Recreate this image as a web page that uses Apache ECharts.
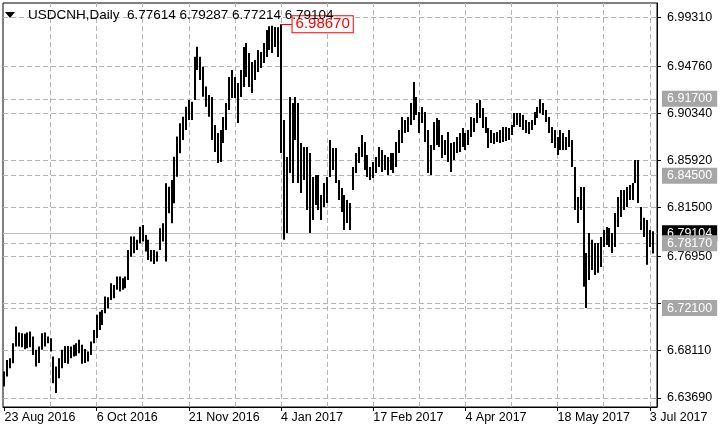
<!DOCTYPE html>
<html>
<head>
<meta charset="utf-8">
<script src="https://cdn.jsdelivr.net/npm/echarts@6/dist/echarts.min.js"></script>
<style>
html,body{margin:0;padding:0;background:#fff;}
#chart{width:720px;height:432px;}
</style>
</head>
<body>
<div id="chart"></div>
<script>
// ---- data ----
const symbolName = 'USDCNH,Daily';
const lastQuote = [6.77614, 6.79287, 6.77214, 6.79104]; // open high low close of last bar
const tickLabels = ['23 Aug 2016','6 Oct 2016','21 Nov 2016','4 Jan 2017','17 Feb 2017','4 Apr 2017','18 May 2017','3 Jul 2017'];
const gridValues = [6.9931, 6.9476, 6.9034, 6.8592, 6.8150, 6.7695, 6.7253, 6.6811, 6.6369];
const axisLabelValues = [6.9931, 6.9476, 6.9034, 6.8592, 6.8150, 6.7695, 6.6811, 6.6369];
const levelValues = [6.9170, 6.8450, 6.7817, 6.7210];
const bidValue = 6.79104;
const peakIndex = 96;
const peakValue = 6.9867;

const highs = [
6.6616,6.6725,6.6741,6.6882,6.7037,6.6981,6.6975,6.6969,6.6981,6.6990,
6.6944,6.6819,6.6850,6.6975,6.6981,6.6944,6.6928,6.6756,6.6663,6.6741,
6.6819,6.6856,6.6856,6.6850,6.6866,6.6882,6.6913,6.6866,6.6826,6.6803,
6.6897,6.7006,6.7147,6.7177,6.7193,6.7318,6.7312,6.7443,6.7427,6.7505,
6.7505,6.7490,6.7505,6.7755,6.7880,6.7880,6.7849,6.7973,6.7989,6.7895,
6.7849,6.7755,6.7755,6.7739,6.7958,6.8005,6.8379,6.8347,6.8410,6.8628,
6.8816,6.8941,6.9003,6.9096,6.9159,6.9143,6.9564,6.9658,6.9564,6.9471,
6.9284,6.9206,6.9187,6.8925,6.8850,6.8878,6.9000,6.9131,6.9374,6.9440,
6.9374,6.9318,6.9440,6.9655,6.9693,6.9599,6.9515,6.9533,6.9627,6.9608,
6.9693,6.9814,6.9850,6.9855,6.9842,6.9840,6.9867,6.8972,6.8626,6.9187,
6.9131,6.9187,6.9131,6.8757,6.8719,6.8719,6.8663,6.8438,6.8457,6.8457,
6.8270,6.8382,6.8438,6.8785,6.8710,6.8710,6.8410,6.8335,6.8270,6.8223,
6.8195,6.8532,6.8663,6.8719,6.8831,6.8766,6.8644,6.8532,6.8579,6.8626,
6.8719,6.8691,6.8644,6.8626,6.8663,6.8663,6.8766,6.8878,6.9000,6.8972,
6.9000,6.9131,6.9328,6.9187,6.9047,6.9093,6.9047,6.8878,6.8738,6.8953,
6.8991,6.8972,6.8831,6.8785,6.8860,6.8757,6.8766,6.8813,6.8850,6.8897,
6.8850,6.8878,6.9000,6.8991,6.9131,6.9159,6.9084,6.9000,6.8897,6.8878,
6.8850,6.8860,6.8878,6.8906,6.8906,6.8897,6.8925,6.9037,6.9037,6.9037,
6.9019,6.8972,6.8953,6.8972,6.9047,6.9093,6.9165,6.9131,6.9065,6.9000,
6.8906,6.8878,6.8813,6.8878,6.8850,6.8813,6.8878,6.8785,6.8532,6.8251,
6.8345,6.8345,6.7727,6.7914,6.7849,6.7820,6.7820,6.7877,6.7942,6.7970,
6.7961,6.7914,6.8101,6.8251,6.8317,6.8317,6.8345,6.8363,6.8382,6.8597,
6.8597,6.8157,6.8055,6.8036,6.7942,6.79287
];
const lows = [
6.6475,6.6569,6.6648,6.6694,6.6850,6.6850,6.6844,6.6825,6.6835,6.6844,
6.6772,6.6663,6.6695,6.6819,6.6850,6.6882,6.6803,6.6507,6.6414,6.6554,
6.6648,6.6695,6.6688,6.6741,6.6756,6.6763,6.6788,6.6688,6.6695,6.6710,
6.6772,6.6882,6.6929,6.7006,6.7053,6.7162,6.7209,6.7287,6.7303,6.7381,
6.7365,6.7381,6.7396,6.7474,6.7692,6.7724,6.7755,6.7818,6.7833,6.7739,
6.7661,6.7646,6.7624,6.7646,6.7755,6.7833,6.7646,6.8099,6.8005,6.8192,
6.8441,6.8660,6.8785,6.8878,6.8972,6.8972,6.9159,6.9440,6.9346,6.9190,
6.9096,6.9003,6.8785,6.8672,6.8569,6.8579,6.8757,6.8878,6.9065,6.9178,
6.9178,6.8944,6.9187,6.9281,6.9374,6.9281,6.9225,6.9346,6.9421,6.9459,
6.9505,6.9561,6.9627,6.9599,6.9655,6.9561,6.8663,6.7849,6.7914,6.8476,
6.8382,6.8785,6.8382,6.8289,6.8410,6.8129,6.7914,6.8036,6.8176,6.8129,
6.8036,6.8157,6.8195,6.8438,6.8504,6.8382,6.8223,6.8111,6.7942,6.8008,
6.7942,6.8317,6.8476,6.8569,6.8626,6.8504,6.8438,6.8410,6.8429,6.8476,
6.8532,6.8485,6.8504,6.8457,6.8504,6.8476,6.8532,6.8663,6.8757,6.8850,
6.8859,6.8925,6.8972,6.9019,6.8850,6.8944,6.8766,6.8476,6.8457,6.8691,
6.8738,6.8719,6.8616,6.8644,6.8579,6.8485,6.8597,6.8663,6.8672,6.8719,
6.8691,6.8738,6.8813,6.8860,6.8944,6.8991,6.8897,6.8850,6.8710,6.8757,
6.8747,6.8766,6.8757,6.8766,6.8775,6.8785,6.8831,6.8906,6.8925,6.8906,
6.8878,6.8850,6.8841,6.8878,6.8925,6.8991,6.9037,6.9019,6.8953,6.8850,
6.8757,6.8710,6.8644,6.8691,6.8691,6.8691,6.8719,6.8532,6.8129,6.8008,
6.8129,6.7409,6.7210,6.7474,6.7568,6.7521,6.7540,6.7596,6.7783,6.7802,
6.7783,6.7727,6.7783,6.7970,6.8064,6.8129,6.8157,6.8223,6.8223,6.8382,
6.8195,6.7942,6.7877,6.7615,6.7783,6.77214
];

// ---- categories: trading days (weekdays) from 23 Aug 2016 ----
const months = ['Jan','Feb','Mar','Apr','May','Jun','Jul','Aug','Sep','Oct','Nov','Dec'];
const categories = [];
let dt = Date.UTC(2016, 7, 23);
while (categories.length < highs.length + 1) {
  const d = new Date(dt);
  const wd = d.getUTCDay();
  if (wd !== 0 && wd !== 6) categories.push(d.getUTCDate() + ' ' + months[d.getUTCMonth()] + ' ' + d.getUTCFullYear());
  dt += 86400000;
}

const FONT = 'Liberation Sans';
const GRIDCOL = '#b4b4b4';

const vGrid = [];
for (let k = 16; k < categories.length; k += 16) vGrid.push({ xAxis: categories[k] });

const chart = echarts.init(document.getElementById('chart'), null, { renderer: 'canvas' });
chart.setOption({
  animation: false,
  backgroundColor: '#fff',
  grid: { left: 3, right: 63, top: 3, bottom: 25, show: true, borderColor: '#000', borderWidth: 1, backgroundColor: '#fff' },
  xAxis: {
    type: 'category', data: categories, boundaryGap: true,
    axisLine: { show: true, lineStyle: { color: '#000', width: 1 } },
    axisTick: { show: true, alignWithLabel: true, length: 4, interval: (i) => i % 32 === 0, lineStyle: { color: '#000' } },
    axisLabel: { interval: (i) => i % 32 === 0, align: 'left', margin: 4, color: '#000', fontFamily: FONT, fontSize: 12.5,
      formatter: (v, idx) => tickLabels[Math.round(idx / 32)] || v },
    splitLine: { show: false }
  },
  yAxis: {
    type: 'value', position: 'right', min: 6.6284, max: 7.0067, scale: true,
    axisLine: { show: true, lineStyle: { color: '#000', width: 1 } },
    axisTick: { show: true, length: 4, customValues: gridValues, lineStyle: { color: '#000' } },
    axisLabel: { show: true, customValues: axisLabelValues, margin: 10, color: '#000', fontFamily: FONT, fontSize: 12.5,
      formatter: (v) => v.toFixed(5) },
    splitLine: { show: false }
  },
  series: [
    { // grid lines
      type: 'line', data: [], z: 1, silent: true,
      markLine: { silent: true, symbol: ['none', 'none'], label: { show: false }, precision: 5,
        lineStyle: { color: GRIDCOL, type: [5, 3], width: 1 },
        data: gridValues.map(v => ({ yAxis: v })).concat(vGrid) }
    },
    { // bid line
      type: 'line', data: [], z: 2, silent: true,
      markLine: { silent: true, symbol: ['none', 'none'], z: 2, precision: 5,
        lineStyle: { color: '#c0c0c0', type: 'solid', width: 1 },
        label: { show: true, position: 'end', distance: 5, formatter: () => bidValue.toFixed(5),
          color: '#fff', backgroundColor: '#000', padding: [2, 5, 1, 5], fontFamily: FONT, fontSize: 12.5 },
        data: [{ yAxis: bidValue }] }
    },
    { // level lines
      type: 'line', data: [], z: 3, silent: true,
      markLine: { silent: true, symbol: ['none', 'none'], z: 3, precision: 5,
        lineStyle: { color: GRIDCOL, type: [5, 3], width: 1 },
        label: { show: true, position: 'end', distance: 5,
          formatter: (p) => levelValues[p.dataIndex].toFixed(5),
          color: '#fff', backgroundColor: '#a6a6a6', padding: [2, 5, 1, 5], fontFamily: FONT, fontSize: 12.5 },
        data: levelValues.map(v => ({ yAxis: v })) }
    },
    { // OHLC bars (high-low)
      type: 'custom', z: 5,
      data: highs.map((h, i) => [i, h, lows[i]]),
      encode: { x: 0, y: [1, 2] },
      renderItem: (params, api) => {
        const i = api.value(0);
        const p1 = api.coord([i, api.value(1)]);
        const p2 = api.coord([i, api.value(2)]);
        return { type: 'rect', shape: { x: Math.round(p1[0] - 1), y: p1[1], width: 2, height: Math.max(1, p2[1] - p1[1]) },
          style: { fill: '#000' } };
      },
      markLine: { silent: true, symbol: ['none', 'none'], z: 6, precision: 5,
        lineStyle: { color: '#ff0000', type: 'solid', width: 1 },
        label: { show: true, position: 'end', distance: 0, formatter: () => peakValue.toFixed(5),
          color: '#ff0000', backgroundColor: '#fff', borderColor: '#ff0000', borderWidth: 1,
          padding: [1, 3, 0, 3], fontFamily: FONT, fontSize: 15 },
        data: [[{ coord: [peakIndex, peakValue] }, { coord: [peakIndex + 4, peakValue] }]] }
    }
  ],
  graphic: [
    { type: 'polygon', z: 100, shape: { points: [[5, 12], [15, 12], [10, 18]] }, style: { fill: '#000' } },
    { type: 'text', z: 100, left: 28, top: 8,
      style: { text: symbolName + '  ' + lastQuote.map(v => v.toFixed(5)).join(' '), fill: '#000', font: '13.5px "Liberation Sans"' } }
  ]
});
</script>
</body>
</html>
